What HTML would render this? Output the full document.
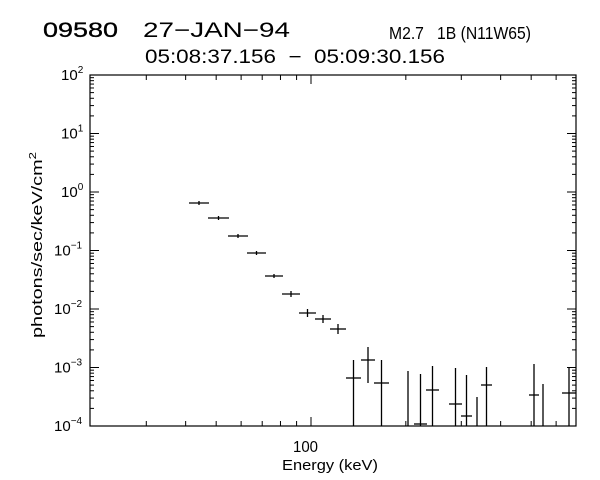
<!DOCTYPE html>
<html><head><style>body{margin:0;background:#fff}svg{display:block}text{font-family:"Liberation Sans",sans-serif;fill:#000;white-space:pre}</style></head>
<body>
<svg width="600" height="480" viewBox="0 0 600 480">
<rect width="600" height="480" fill="#fff"/>
<text x="43" y="37" font-size="21" textLength="75" lengthAdjust="spacingAndGlyphs" stroke="#000" stroke-width="0.3">09580</text>
<text x="143" y="37" font-size="21" textLength="147" lengthAdjust="spacingAndGlyphs">27−JAN−94</text>
<text x="389" y="39" font-size="17.5" textLength="142" lengthAdjust="spacingAndGlyphs" xml:space="preserve">M2.7   1B (N11W65)</text>
<text x="145" y="63" font-size="19" textLength="300" lengthAdjust="spacingAndGlyphs" xml:space="preserve">05:08:37.156  −  05:09:30.156</text>
<g id="ax" stroke="#000" stroke-width="1.2" fill="none">
<rect x="90" y="75" width="486" height="351"/>
</g>
<g id="ticks" stroke="#000" stroke-width="1"></g>
<g id="ylab"></g>
<text x="293" y="452" font-size="16" textLength="25" lengthAdjust="spacingAndGlyphs">100</text>
<text x="282" y="470" font-size="15" textLength="96" lengthAdjust="spacingAndGlyphs">Energy (keV)</text>
<text transform="translate(42,338) rotate(-90)" font-size="15" textLength="186" lengthAdjust="spacingAndGlyphs">photons/sec/keV/cm<tspan dy="-6" font-size="10">2</tspan></text>
<g id="data" stroke="#000" stroke-width="1.3"></g>
</svg>
<script>
var NS="http://www.w3.org/2000/svg";
function L(g,x1,y1,x2,y2){var l=document.createElementNS(NS,"line");l.setAttribute("x1",x1);l.setAttribute("y1",y1);l.setAttribute("x2",x2);l.setAttribute("y2",y2);g.appendChild(l);}
var t=document.getElementById("ticks");
function X(e){return 311+315*Math.log10(e/100);}
[30,40,50,60,70,80,90,100,200,300,400,500,600].forEach(function(e){var x=X(e),len=e==100?9:5;L(t,x,426,x,426-len);L(t,x,75,x,75+len);});
var yl=document.getElementById("ylab");
for(var d=0;d<6;d++){var y0=426-58.5*d;for(var m=1;m<10;m++){var y=y0-58.5*Math.log10(m);var len=m==1?9:4;L(t,90,y,90+len,y);L(t,576,y,576-len,y);}}
L(t,90,75,99,75);L(t,576,75,567,75);
var ex=["-4","-3","-2","-1","0","1","2"];
for(var d=0;d<7;d++){var y=426-58.5*d;var tx=document.createElementNS(NS,"text");tx.setAttribute("font-size","15");var base=y+5;
var xs=ex[d].length>1?54:61;tx.setAttribute("x",xs);tx.setAttribute("y",base);tx.textContent="10";
var ts=document.createElementNS(NS,"tspan");ts.setAttribute("dy","-7");ts.setAttribute("font-size","10");ts.textContent=ex[d].replace("-","−");tx.appendChild(ts);yl.appendChild(tx);}
var g=document.getElementById("data");
var P=[[189,209,203,201,205],[208,229,218,216,220],[228,248,236,234,238],[247,266,253,251,255],[265,283,276,274,278],[282,300,294,291,297],[299,316,313,309,317],[315,331,319,315,323],[330,346,329,324,334],
[346,361,378,360,426],[361,375,360,347,383],[374,389,383,360,426],[414,427,424,374,426],[426,439,390,366,426],[449,462,404,368,426],[461,472,416,375,426],[481,492,385,367,426],[529,539,395,364,426],[562,576,393,368,426]];
P.forEach(function(p){L(g,p[0],p[2],p[1],p[2]);var cx=(p[0]+p[1])/2;if(p.length>3)L(g,cx,p[3],cx,p[4]);});
[[408,371],[477,397],[543,384]].forEach(function(p){L(g,p[0],p[1],p[0],426);});
</script>
</body></html>
